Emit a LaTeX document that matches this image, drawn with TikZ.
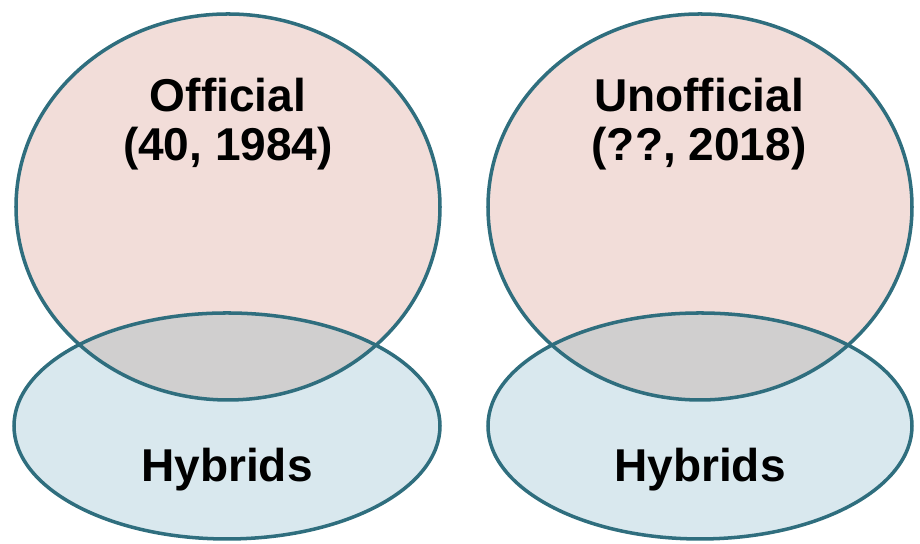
\documentclass[tikz,border=0pt]{standalone}
\usepackage{fontspec}
\setmainfont{Liberation Sans}
\definecolor{vennline}{HTML}{2F6E7E}
\definecolor{setpink}{HTML}{F2DDD9}
\definecolor{hybblue}{HTML}{D9E8EE}
\definecolor{lensgray}{HTML}{D0CFCF}
\begin{document}
\begin{tikzpicture}[
    setlabel/.style={font=\bfseries\fontsize{13.1}{14}\selectfont, align=center, inner sep=0pt, anchor=north},
    outline/.style={draw=vennline, line width=1pt},
]
\useasboundingbox (0,0) rectangle (9.2,-5.44);

% left pair
\fill[setpink] (2.28,-2.07) ellipse [x radius=2.12, y radius=1.93];
\fill[hybblue] (2.27,-4.26) ellipse [x radius=2.13, y radius=1.13];
\begin{scope}
  \clip (2.28,-2.07) ellipse [x radius=2.12, y radius=1.93];
  \fill[lensgray] (2.27,-4.26) ellipse [x radius=2.13, y radius=1.13];
\end{scope}
\draw[outline] (2.28,-2.07) ellipse [x radius=2.12, y radius=1.93];
\draw[outline] (2.27,-4.26) ellipse [x radius=2.13, y radius=1.13];

% right pair
\fill[setpink] (7.00,-2.07) ellipse [x radius=2.12, y radius=1.93];
\fill[hybblue] (7.00,-4.26) ellipse [x radius=2.12, y radius=1.13];
\begin{scope}
  \clip (7.00,-2.07) ellipse [x radius=2.12, y radius=1.93];
  \fill[lensgray] (7.00,-4.26) ellipse [x radius=2.12, y radius=1.13];
\end{scope}
\draw[outline] (7.00,-2.07) ellipse [x radius=2.12, y radius=1.93];
\draw[outline] (7.00,-4.26) ellipse [x radius=2.12, y radius=1.13];

\node[setlabel] (official) at (2.28,-0.77) {Official\\(40, 1984)};
\node[setlabel] (unofficial) at (6.99,-0.77) {Unofficial\\(??, 2018)};
\node[setlabel] (hybL) at (2.27,-4.47) {Hybrids};
\node[setlabel] (hybR) at (7.00,-4.47) {Hybrids};
\end{tikzpicture}
\end{document}
